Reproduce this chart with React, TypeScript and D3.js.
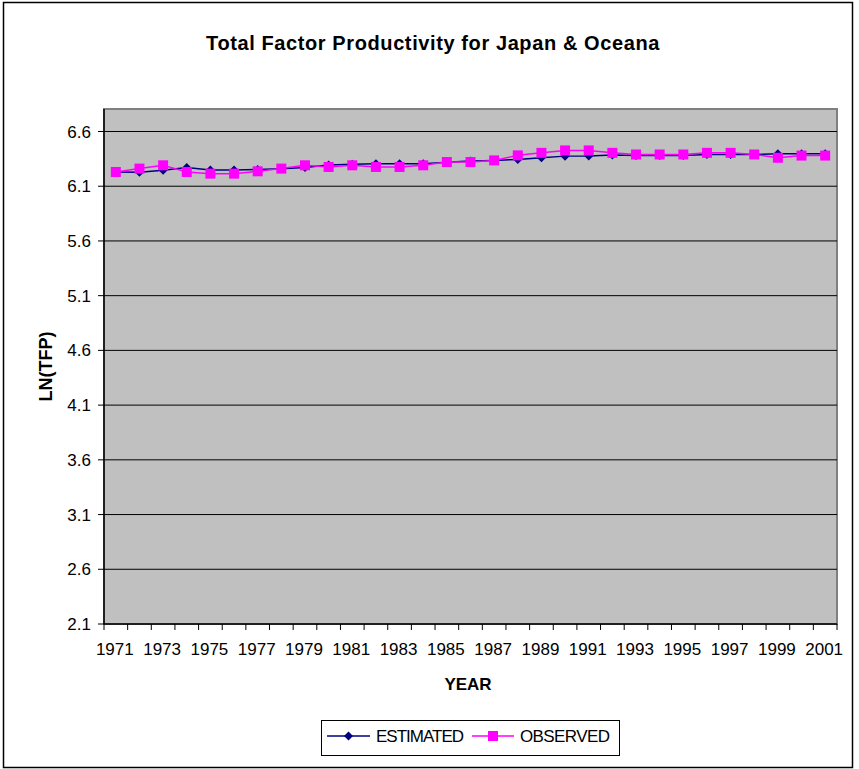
import React from "react";
import * as d3 from "d3";

const years: number[] = d3.range(1971, 2002);
const estimated: number[] = [
  6.23, 6.228, 6.245, 6.27, 6.248, 6.248, 6.252, 6.26, 6.272, 6.295,
  6.3, 6.306, 6.306, 6.306, 6.32, 6.33, 6.336, 6.345, 6.36, 6.375,
  6.376, 6.385, 6.38, 6.38, 6.38, 6.39, 6.39, 6.39, 6.397, 6.397, 6.397,
];
const observed: number[] = [
  6.23, 6.261, 6.291, 6.23, 6.215, 6.215, 6.236, 6.261, 6.291, 6.276,
  6.291, 6.276, 6.276, 6.291, 6.321, 6.321, 6.336, 6.382, 6.405, 6.427,
  6.427, 6.405, 6.39, 6.39, 6.39, 6.405, 6.405, 6.39, 6.36, 6.38, 6.38,
];
const yTicks: number[] = [2.1, 2.6, 3.1, 3.6, 4.1, 4.6, 5.1, 5.6, 6.1, 6.6];

const W = 859;
const H = 769;
const left = 104;
const right = 837;
const top = 109;
const bottom = 624;

export default function App() {
  const x = d3.scaleBand<number>().domain(years).range([left, right]).padding(0);
  const pxPerUnit = (bottom - 131.5) / (6.6 - 2.1);
  const yMax = 6.6 + (131.5 - top) / pxPerUnit;
  const y = d3.scaleLinear().domain([2.1, yMax]).range([bottom, top]);
  const cx = (yr: number) => (x(yr) as number) + x.bandwidth() / 2;

  const line = d3
    .line<number>()
    .x((_, i) => cx(years[i]))
    .y((d) => y(d));

  const font = "Arial, 'Liberation Sans', sans-serif";
  const diamond = (px: number, py: number, r: number) =>
    `M${px},${py - r}L${px + r},${py}L${px},${py + r}L${px - r},${py}Z`;

  return (
    <svg
      width={W}
      height={H}
      style={{ position: "absolute", left: 0, top: 0 }}
      fontFamily={font}
    >
      <rect x={0} y={0} width={W} height={H} fill="#fff" />
      <rect x={3.5} y={2.5} width={849} height={765} fill="#fff" stroke="#000" strokeWidth={1.5} />
      <text x={433} y={50} textAnchor="middle" fontSize={20} fontWeight="bold" letterSpacing={0.6}>
        Total Factor Productivity for Japan &amp; Oceana
      </text>

      {/* plot area */}
      <rect x={left} y={top} width={right - left} height={bottom - top} fill="#c0c0c0" stroke="#808080" strokeWidth={2} />
      {yTicks.map((t) => (
        <g key={t}>
          {t > 2.1 && (
            <line x1={left} x2={right} y1={y(t)} y2={y(t)} stroke="#000" strokeWidth={1} />
          )}
          <line x1={left - 6} x2={left} y1={y(t)} y2={y(t)} stroke="#000" />
          <text x={91} y={y(t) + 6} textAnchor="end" fontSize={17}>
            {t.toFixed(1)}
          </text>
        </g>
      ))}
      {/* axes */}
      <line x1={left} x2={left} y1={top} y2={bottom} stroke="#000" strokeWidth={1.5} />
      <line x1={left} x2={right} y1={bottom} y2={bottom} stroke="#000" strokeWidth={1.5} />
      {years.concat([2002]).map((yr, i) => {
        const xx = left + i * x.bandwidth();
        return <line key={yr} x1={xx} x2={xx} y1={bottom} y2={bottom + 6} stroke="#000" />;
      })}
      {years
        .filter((_, i) => i % 2 === 0)
        .map((yr) => (
          <text key={yr} x={cx(yr) - 1} y={655} textAnchor="middle" fontSize={17}>
            {yr}
          </text>
        ))}
      <text x={468} y={690} textAnchor="middle" fontSize={17} fontWeight="bold">
        YEAR
      </text>
      <text
        transform={`translate(52,${(top + bottom) / 2}) rotate(-90)`}
        textAnchor="middle"
        fontSize={18}
        fontWeight="bold"
      >
        LN(TFP)
      </text>

      {/* series */}
      <path d={line(estimated) ?? ""} fill="none" stroke="#000080" strokeWidth={1.5} />
      {estimated.map((v, i) => (
        <path key={i} d={diamond(cx(years[i]), y(v), 4.5)} fill="#000080" />
      ))}
      <path d={line(observed) ?? ""} fill="none" stroke="#ff00ff" strokeWidth={1.5} />
      {observed.map((v, i) => (
        <rect key={i} x={cx(years[i]) - 5} y={y(v) - 5} width={10} height={10} fill="#ff00ff" />
      ))}

      {/* legend */}
      <rect x={321.5} y={720.5} width={298} height={35} fill="#fff" stroke="#000" />
      <line x1={327} x2={370} y1={736} y2={736} stroke="#000080" strokeWidth={1.5} />
      <path d={diamond(348.5, 736, 4.5)} fill="#000080" />
      <text x={376} y={742} fontSize={17} letterSpacing={-1}>ESTIMATED</text>
      <line x1={472} x2={514} y1={736} y2={736} stroke="#ff00ff" strokeWidth={1.5} />
      <rect x={488} y={731} width={10} height={10} fill="#ff00ff" />
      <text x={520} y={742} fontSize={17} letterSpacing={-0.6}>OBSERVED</text>
    </svg>
  );
}
